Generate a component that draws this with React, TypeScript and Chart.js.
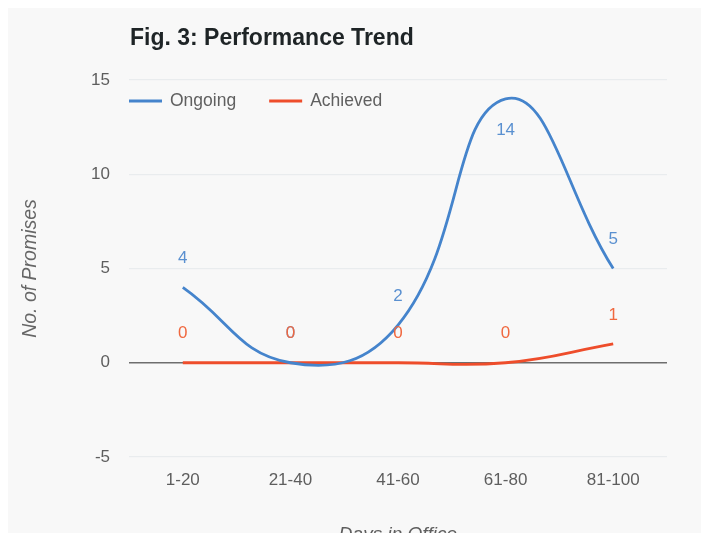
import React, { useEffect, useRef } from "react";
import { Chart, registerables } from "chart.js";

Chart.register(...registerables);

const categories = ["1-20", "21-40", "41-60", "61-80", "81-100"];
const ongoing = [4, 0, 2, 14, 5];
const achieved = [0, 0, 0, 0, 1];
const seriesNames = ["Ongoing", "Achieved"];
const yTicks = [-5, 0, 5, 10, 15];
const chartTitle = "Fig. 3: Performance Trend";
const yTitle = "No. of Promises";
const xTitle = "Days in Office";

const BLUE = "#4584cc";
const RED = "#ee4d2b";
const BLUE_LABEL = "#5a90d0";
const RED_LABEL = "#f0683f";
const FONT = "'Liberation Sans', Arial, sans-serif";

// Title, inline legend and value annotations drawn on the canvas
const overlayPlugin = {
  id: "overlay",
  afterDatasetsDraw(chart: any) {
    const { ctx, chartArea } = chart;
    ctx.save();

    // value annotations
    ctx.font = `17px ${FONT}`;
    ctx.textAlign = "center";
    ctx.textBaseline = "middle";
    chart.data.datasets.forEach((ds: any, di: number) => {
      const meta = chart.getDatasetMeta(di);
      ctx.fillStyle = ds.labelColor;
      meta.data.forEach((pt: any, i: number) => {
        let y = pt.y - 29;
        if (y < chartArea.top + 4) y = pt.y + 31;
        ctx.fillText(String(ds.data[i]), pt.x, y);
      });
    });

    // title
    ctx.fillStyle = "#1e2426";
    ctx.font = `bold 23px ${FONT}`;
    ctx.textAlign = "left";
    ctx.fillText(chartTitle, chartArea.left + 1, 31);

    // legend inside the plot area
    ctx.font = `17.5px ${FONT}`;
    let x = chartArea.left;
    const ly = chartArea.top + 21;
    chart.data.datasets.forEach((ds: any) => {
      ctx.strokeStyle = ds.borderColor;
      ctx.lineWidth = 3;
      ctx.beginPath();
      ctx.moveTo(x, ly);
      ctx.lineTo(x + 33, ly);
      ctx.stroke();
      ctx.fillStyle = "#606060";
      ctx.fillText(ds.label, x + 41, ly);
      x += 41 + ctx.measureText(ds.label).width + 33;
    });
    ctx.restore();
  },
};

export default function App() {
  const canvasRef = useRef<HTMLCanvasElement | null>(null);

  useEffect(() => {
    if (!canvasRef.current) return;
    const chart = new Chart(canvasRef.current, {
      type: "line",
      data: {
        labels: categories,
        datasets: [
          {
            label: seriesNames[0],
            data: ongoing,
            borderColor: BLUE,
            backgroundColor: BLUE,
            borderWidth: 2.8,
            pointRadius: 0,
            tension: 0.45,
            labelColor: BLUE_LABEL,
          } as any,
          {
            label: seriesNames[1],
            data: achieved,
            borderColor: RED,
            backgroundColor: RED,
            borderWidth: 2.8,
            pointRadius: 0,
            tension: 0.45,
            labelColor: RED_LABEL,
          } as any,
        ],
      },
      options: {
        responsive: false,
        animation: false,
        devicePixelRatio: 1,
        layout: { padding: { top: 72, right: 34, left: 0, bottom: 0 } },
        plugins: {
          legend: { display: false },
          tooltip: { enabled: false },
          title: { display: false },
        },
        scales: {
          x: {
            offset: true,
            grid: { display: false, drawTicks: false },
            border: { display: false },
            ticks: {
              color: "#5e5e5e",
              font: { family: FONT, size: 17 },
              padding: 13,
              maxRotation: 0,
            },
            title: {
              display: true,
              text: xTitle,
              color: "#5e5e5e",
              font: { family: FONT, size: 19, style: "italic" },
              padding: { top: 0, bottom: 7 },
            },
            afterFit(scale: any) {
              scale.height = 96;
            },
          },
          y: {
            min: -5,
            max: 15,
            afterBuildTicks(scale: any) {
              scale.ticks = yTicks.map((v) => ({ value: v }));
            },
            grid: {
              drawTicks: false,
              color: (c: any) => (c.tick && c.tick.value === 0 ? "#6e6e6e" : "#e9ecee"),
              lineWidth: (c: any) => (c.tick && c.tick.value === 0 ? 1.5 : 1.3),
            },
            border: { display: false },
            ticks: {
              color: "#5e5e5e",
              font: { family: FONT, size: 17 },
              padding: 19,
            },
            title: {
              display: true,
              text: yTitle,
              color: "#666666",
              font: { family: FONT, size: 19.5, style: "italic" },
              padding: { top: 11, bottom: 0 },
            },
            afterFit(scale: any) {
              scale.width = 121;
            },
          },
        },
      },
      plugins: [overlayPlugin],
    });
    return () => chart.destroy();
  }, []);

  return (
    <div
      style={{
        width: 693,
        height: 525,
        overflow: "hidden",
        background: "#f8f8f8",
      }}
    >
      <canvas ref={canvasRef} width={693} height={545} style={{ display: "block" }} />
    </div>
  );
}
